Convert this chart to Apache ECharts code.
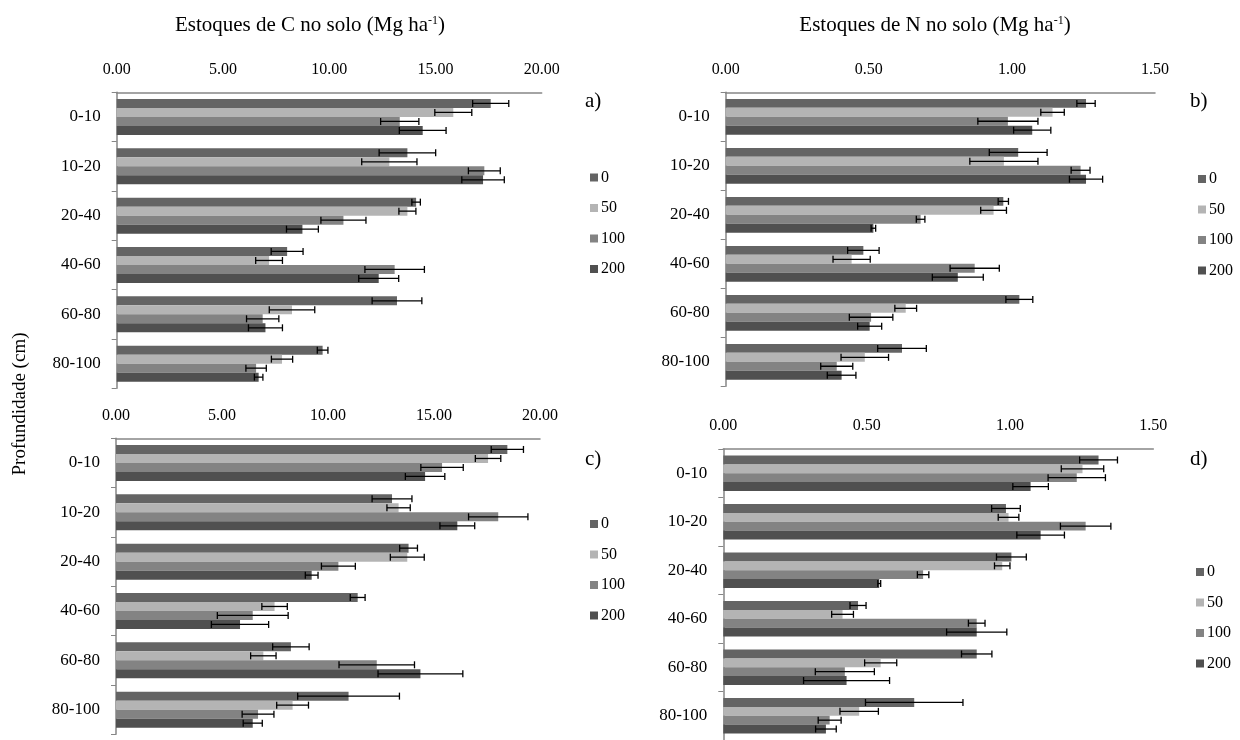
<!DOCTYPE html>
<html>
<head>
<meta charset="utf-8">
<script src="https://cdn.jsdelivr.net/npm/echarts@6/dist/echarts.min.js"></script>
<style>
  html, body { margin: 0; padding: 0; background: #fff; }
  #chart { width: 1240px; height: 740px; }
</style>
</head>
<body>
<div id="chart"></div>
<script>
// profundidades e doses
const categories = ['0-10', '10-20', '20-40', '40-60', '60-80', '80-100']
const doses = ['0', '50', '100', '200']
const colors = ['#646464', '#b4b4b4', '#838383', '#505050']

// a) estoques de C (Mg/ha), uma linha por dose
const valuesA = [
  [17.6, 13.68, 14.09, 8.02, 13.19, 9.69],
  [15.84, 12.83, 13.68, 7.17, 8.25, 7.78],
  [13.32, 17.3, 10.67, 13.08, 6.87, 6.56],
  [14.4, 17.24, 8.74, 12.33, 7.0, 6.68]
]
const errorsA = [
  [0.85, 1.33, 0.2, 0.75, 1.17, 0.25],
  [0.87, 1.3, 0.4, 0.63, 1.07, 0.5],
  [0.9, 0.75, 1.06, 1.4, 0.76, 0.48],
  [1.1, 1.0, 0.75, 0.94, 0.8, 0.2]
]
// b) estoques de N
const valuesB = [
  [1.259, 1.022, 0.970, 0.481, 1.026, 0.616],
  [1.142, 0.972, 0.936, 0.440, 0.629, 0.486],
  [0.986, 1.240, 0.681, 0.870, 0.508, 0.388],
  [1.071, 1.259, 0.516, 0.811, 0.503, 0.405]
]
const errorsB = [
  [0.032, 0.101, 0.018, 0.055, 0.047, 0.085],
  [0.041, 0.119, 0.045, 0.065, 0.038, 0.083],
  [0.105, 0.033, 0.015, 0.086, 0.076, 0.056],
  [0.065, 0.058, 0.008, 0.089, 0.042, 0.05]
]
// c) estoques de C
const valuesC = [
  [18.46, 13.02, 13.8, 11.4, 8.25, 10.97],
  [17.55, 13.33, 13.74, 7.48, 6.95, 8.33],
  [15.38, 18.03, 10.49, 6.45, 12.3, 6.7],
  [14.58, 16.1, 9.23, 5.85, 14.36, 6.45]
]
const errorsC = [
  [0.76, 0.94, 0.42, 0.35, 0.86, 2.4],
  [0.6, 0.55, 0.8, 0.6, 0.6, 0.75],
  [1.0, 1.4, 0.8, 1.67, 1.78, 0.75],
  [0.93, 0.82, 0.3, 1.35, 2.0, 0.45]
]
// d) estoques de N
const valuesD = [
  [1.309, 0.986, 1.005, 0.470, 0.884, 0.666],
  [1.253, 0.995, 0.973, 0.416, 0.549, 0.474],
  [1.233, 1.264, 0.697, 0.884, 0.424, 0.371],
  [1.072, 1.107, 0.544, 0.884, 0.430, 0.358]
]
const errorsD = [
  [0.066, 0.05, 0.052, 0.028, 0.053, 0.17],
  [0.074, 0.036, 0.027, 0.038, 0.056, 0.067],
  [0.1, 0.088, 0.02, 0.029, 0.103, 0.04],
  [0.062, 0.083, 0.005, 0.105, 0.15, 0.036]
]

const GAP = 0.27
const FONT = 'Liberation Serif'

const panels = [
  { grid: { left: 116.7, top: 92.3, width: 425, height: 296 }, max: 20, interval: 5, values: valuesA, errors: errorsA, legendLeft: 585, legendTop: 164.5 },
  { grid: { left: 725.7, top: 92.3, width: 429.3, height: 294 }, max: 1.5, interval: 0.5, values: valuesB, errors: errorsB, legendLeft: 1193, legendTop: 166 },
  { grid: { left: 116, top: 438.3, width: 424, height: 296 }, max: 20, interval: 5, values: valuesC, errors: errorsC, legendLeft: 585, legendTop: 511 },
  { grid: { left: 723.3, top: 449, width: 430, height: 291 }, max: 1.5, interval: 0.5, values: valuesD, errors: errorsD, legendLeft: 1191, legendTop: 559 }
]

// barras de erro desenhadas sobre cada barra
const errorRender = (k) => (params, api) => {
  const val = api.value(0)
  const cat = api.value(1)
  const err = api.value(2)
  const band = api.size([0, 1])[1]
  const bw = band * (1 - GAP) / 4
  const yc = api.coord([val, cat])[1] + (k - 1.5) * bw
  const x1 = api.coord([val - err, cat])[0]
  const x2 = api.coord([val + err, cat])[0]
  const st = { stroke: '#000', lineWidth: 1.3 }
  return {
    type: 'group',
    children: [
      { type: 'line', shape: { x1: x1, y1: yc, x2: x2, y2: yc }, style: st },
      { type: 'line', shape: { x1: x1, y1: yc - 3.5, x2: x1, y2: yc + 3.5 }, style: st },
      { type: 'line', shape: { x1: x2, y1: yc - 3.5, x2: x2, y2: yc + 3.5 }, style: st }
    ]
  }
}

const grids = [], xAxes = [], yAxes = [], series = [], legends = []
panels.forEach((p, i) => {
  grids.push(p.grid)
  xAxes.push({
    type: 'value', gridIndex: i, position: 'top', min: 0, max: p.max, interval: p.interval,
    axisLine: { show: true, lineStyle: { color: '#868686', width: 1.5 } },
    axisTick: { show: false },
    splitLine: { show: false },
    axisLabel: { margin: 15, color: '#000', fontFamily: FONT, fontSize: 16, formatter: v => v.toFixed(2) }
  })
  yAxes.push({
    type: 'category', gridIndex: i, inverse: true, data: categories,
    axisLine: { show: true, lineStyle: { color: '#868686', width: 1.5 } },
    axisTick: { show: true, length: 5, lineStyle: { color: '#868686' } },
    axisLabel: { margin: 16, color: '#000', fontFamily: FONT, fontSize: 17 }
  })
  doses.forEach((d, k) => {
    series.push({
      name: d, type: 'bar', xAxisIndex: i, yAxisIndex: i,
      barGap: '0%', barCategoryGap: (GAP * 100) + '%',
      itemStyle: { color: colors[k] },
      emphasis: { disabled: true },
      data: p.values[k]
    })
  })
  doses.forEach((d, k) => {
    series.push({
      type: 'custom', xAxisIndex: i, yAxisIndex: i, z: 5,
      renderItem: errorRender(k),
      encode: { x: 0, y: 1 },
      data: p.values[k].map((v, c) => [v, c, p.errors[k][c]])
    })
  })
  legends.push({
    data: doses, orient: 'vertical', left: p.legendLeft, top: p.legendTop,
    icon: 'rect', itemWidth: 8, itemHeight: 8, itemGap: 14.5,
    selectedMode: false,
    textStyle: { fontFamily: FONT, fontSize: 16, color: '#000', lineHeight: 16, padding: [0, 0, 0, -2] }
  })
})

const titleRich = {
  a: { fontFamily: FONT, fontSize: 21, fontWeight: 'normal', color: '#000' },
  s: { fontFamily: FONT, fontSize: 12, fontWeight: 'normal', color: '#000', verticalAlign: 'top' }
}

const chart = echarts.init(document.getElementById('chart'))
chart.setOption({
  animation: false,
  backgroundColor: '#fff',
  title: [
    { text: '{a|Estoques de C no solo (Mg ha}{s|-1}{a|)}', left: 305, top: 10, textAlign: 'center', textStyle: { fontWeight: 'normal', rich: titleRich } },
    { text: '{a|Estoques de N no solo (Mg ha}{s|-1}{a|)}', left: 930, top: 10, textAlign: 'center', textStyle: { fontWeight: 'normal', rich: titleRich } }
  ],
  grid: grids,
  xAxis: xAxes,
  yAxis: yAxes,
  legend: legends,
  series: series,
  graphic: [
    { type: 'text', x: 20, y: 404, rotation: Math.PI / 2, style: { text: 'Profundidade (cm)', fontFamily: FONT, fontSize: 19, fill: '#000', align: 'center', verticalAlign: 'middle' } },
    { type: 'text', left: 585, top: 91, style: { text: 'a)', fontFamily: FONT, fontSize: 21, fill: '#000' } },
    { type: 'text', left: 1190, top: 91, style: { text: 'b)', fontFamily: FONT, fontSize: 21, fill: '#000' } },
    { type: 'text', left: 585, top: 449, style: { text: 'c)', fontFamily: FONT, fontSize: 21, fill: '#000' } },
    { type: 'text', left: 1190, top: 449, style: { text: 'd)', fontFamily: FONT, fontSize: 21, fill: '#000' } }
  ]
})
</script>
</body>
</html>
